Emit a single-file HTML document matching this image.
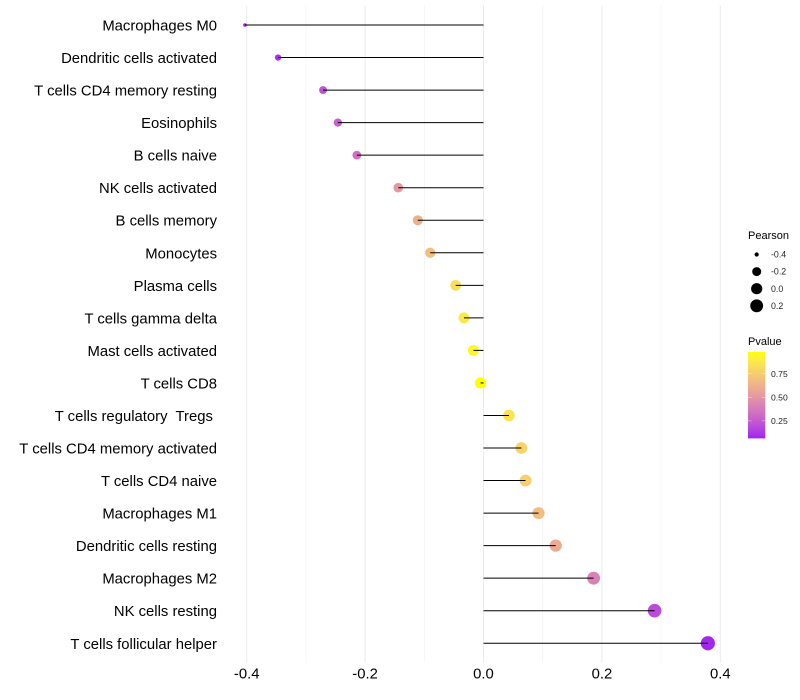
<!DOCTYPE html>
<html>
<head>
<meta charset="utf-8">
<title>Lollipop chart</title>
<style>
html,body{margin:0;padding:0;background:#fff;}
svg{display:block;font-family:"Liberation Sans",sans-serif;}
text{white-space:pre;}
</style>
</head>
<body>
<svg id="chart" xmlns="http://www.w3.org/2000/svg" width="800" height="700" viewBox="0 0 800 700">
<defs>
<linearGradient id="pgrad" x1="0" y1="1" x2="0" y2="0"></linearGradient>
</defs>
<rect x="0" y="0" width="800" height="700" fill="#fff"></rect>
<g id="grid"></g>
<g id="points"></g>
<g id="segments"></g>
<g id="ylabels"></g>
<g id="xlabels"></g>
<g id="size-legend">
<text x="748" y="239" font-size="11" fill="#000">Pearson</text>
</g>
<g id="color-legend">
<text x="748" y="345" font-size="11" fill="#000">Pvalue</text>
<rect x="748" y="352" width="17.3" height="86.4" fill="url(#pgrad)"></rect>
</g>
</svg>
<script>
const categories = ["Macrophages M0","Dendritic cells activated","T cells CD4 memory resting","Eosinophils","B cells naive","NK cells activated","B cells memory","Monocytes","Plasma cells","T cells gamma delta","Mast cells activated","T cells CD8","T cells regulatory  Tregs ","T cells CD4 memory activated","T cells CD4 naive","Macrophages M1","Dendritic cells resting","Macrophages M2","NK cells resting","T cells follicular helper"];
const pearson = [-0.403,-0.347,-0.271,-0.246,-0.214,-0.144,-0.111,-0.09,-0.047,-0.033,-0.017,-0.005,0.043,0.064,0.071,0.093,0.122,0.186,0.289,0.379];
const pvalues = [0.064,0.11,0.22,0.27,0.34,0.52,0.62,0.69,0.83,0.88,0.94,0.98,0.85,0.78,0.76,0.68,0.59,0.41,0.19,0.08];
const xTicks = [-0.4,-0.2,0,0.2,0.4];
const xMinorTicks = [-0.3,-0.1,0.1,0.3];
const sizeLegendValues = [-0.4,-0.2,0,0.2];
const colorLegendValues = [0.25,0.5,0.75];

const NS = "http://www.w3.org/2000/svg";
function xScale(v){ return 483.5 + v * 592; }
function yScale(i){ return 25 + i * 32.54; }
const sizeMin = Math.min(...pearson), sizeMax = Math.max(...pearson);
function rScale(v){
  const t = Math.max(0, (v - sizeMin) / (sizeMax - sizeMin));
  const size = 1 + 5 * Math.sqrt(t);
  return 0.375 * (size * 2.845 + 0.94) + 0.35;
}
function make(tag, attrs, parent){
  const el = document.createElementNS(NS, tag);
  for (const k in attrs) el.setAttribute(k, attrs[k]);
  parent.appendChild(el);
  return el;
}
function toLab(c){
  const f = u => { u/=255; return u<=0.04045?u/12.92:Math.pow((u+0.055)/1.055,2.4); };
  const r=f(c[0]),g=f(c[1]),b=f(c[2]);
  const X=(0.4124*r+0.3576*g+0.1805*b)/0.95047,Y=0.2126*r+0.7152*g+0.0722*b,Z=(0.0193*r+0.1192*g+0.9505*b)/1.08883;
  const h = t => t>0.008856?Math.cbrt(t):7.787*t+16/116;
  return [116*h(Y)-16,500*(h(X)-h(Y)),200*(h(Y)-h(Z))];
}
function fromLab(l){
  const fy=(l[0]+16)/116,fx=fy+l[1]/500,fz=fy-l[2]/200;
  const g = t => t*t*t>0.008856?t*t*t:(t-16/116)/7.787;
  const X=g(fx)*0.95047,Y=g(fy),Z=g(fz)*1.08883;
  const lin=[3.2406*X-1.5372*Y-0.4986*Z,-0.9689*X+1.8758*Y+0.0415*Z,0.0557*X-0.204*Y+1.057*Z];
  const out=lin.map(u=>{u=Math.max(0,Math.min(1,u));return Math.round(255*(u<=0.0031308?12.92*u:1.055*Math.pow(u,1/2.4)-0.055));});
  return "rgb("+out.join(",")+")";
}
const labLow = toLab([160,32,240]), labHigh = toLab([255,255,0]);
const pMin = Math.min(...pvalues), pMax = Math.max(...pvalues);
function colorScale(p){
  const t = Math.max(0, Math.min(1, (p - pMin) / (pMax - pMin)));
  return fromLab(labLow.map((a,i)=>a+(labHigh[i]-a)*t));
}
function fmt(v){ return v.toFixed(1); }

const grid = document.getElementById("grid");
xMinorTicks.forEach(v => {
  const l = make("line",{x1:xScale(v),x2:xScale(v),y1:5.5,y2:662.8,stroke:"#f0f0f0","stroke-width":0.55},grid);
  
  
});
xTicks.forEach(v => {
  const l = make("line",{x1:xScale(v),x2:xScale(v),y1:5.5,y2:662.8,stroke:"#ebebeb","stroke-width":1},grid);
  
  
});

const xl = document.getElementById("xlabels");
xTicks.forEach(v => {
  const t = make("text",{x:xScale(v),y:678.5,"text-anchor":"middle","font-size":14.85,fill:"#000"},xl);
  
  
  t.textContent = fmt(v);
});

const yl = document.getElementById("ylabels");
const pts = document.getElementById("points");
const segs = document.getElementById("segments");
categories.forEach((name,i) => {
  const t = make("text",{x:217,y:yScale(i)+5.5,"text-anchor":"end","font-size":14.85,fill:"#000"},yl);
  
  
  t.textContent = name;

  const c = make("circle",{cx:xScale(pearson[i]),cy:yScale(i),r:rScale(pearson[i]),fill:colorScale(pvalues[i])},pts);
  
  

  const s = make("line",{x1:xScale(0),x2:xScale(pearson[i]),y1:yScale(i),y2:yScale(i),stroke:"#000","stroke-width":1},segs);
  
  
});

const sl = document.getElementById("size-legend");
sizeLegendValues.forEach((v,i) => {
  const cy = 254.5 + i * 17.1;
  const c = make("circle",{cx:756.7,cy:cy,r:rScale(v),fill:"#000"},sl);
  
  
  const t = make("text",{x:771,y:cy+3.1,"font-size":8.8,fill:"#222"},sl);
  
  
  t.textContent = fmt(v);
});

const grad = document.getElementById("pgrad");
for (let k = 0; k <= 30; k++) {
  const st = make("stop",{offset:(k/30),"stop-color":colorScale(pMin + (pMax-pMin)*k/30)},grad);
  
  
}
const cl = document.getElementById("color-legend");
function barY(p){ return 438.4 - (p - pMin) / (pMax - pMin) * 86.4; }
colorLegendValues.forEach(v => {
  const y = barY(v);
  [[748,751.5],[761.8,765.3]].forEach(r => {
    const m = make("line",{x1:r[0],x2:r[1],y1:y,y2:y,stroke:"#fff","stroke-opacity":0.6,"stroke-width":0.6},cl);
    
    
  });
  const t = make("text",{x:771,y:y+3.1,"font-size":8.6,fill:"#222"},cl);
  
  
  t.textContent = v.toFixed(2);
});
</script>
</body>
</html>
